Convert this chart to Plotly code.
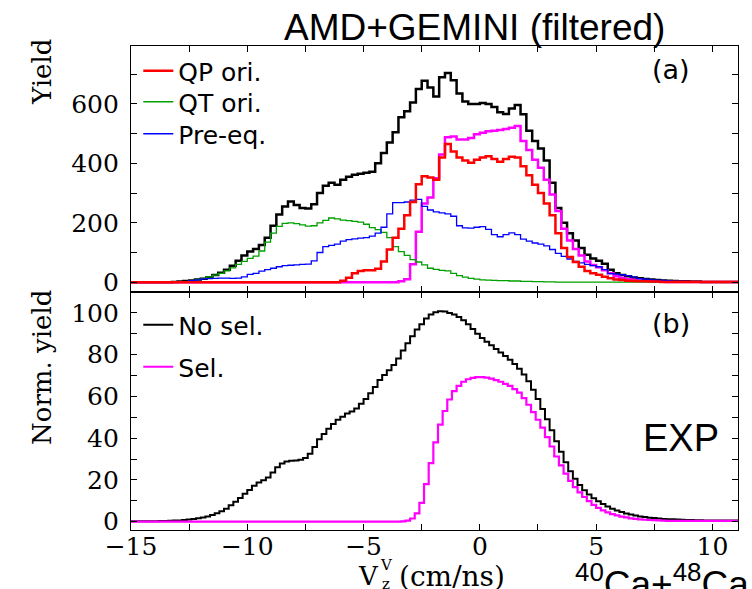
import numpy as np
import plotly.graph_objects as go

# ---------------- data (histograms, left bin edges start at X0) ----------------
X0 = -15.0
BIN_A = 0.25   # panel (a) bin width, cm/ns
BIN_B = 0.2    # panel (b) bin width, cm/ns

# Panel (a): AMD+GEMINI (filtered) yields
total_a = [0, 0, 0, 0, 0, 0, 0, 1, 2, 4, 6, 9, 12, 17, 24, 32, 42, 55, 72, 90,
           103, 112, 125, 150, 190, 228, 255, 272, 260, 250, 248, 262, 300, 325, 335, 328, 345, 355, 362, 365,
           368, 372, 400, 435, 470, 505, 555, 575, 605, 650, 678, 655, 625, 690, 704, 680, 635, 608, 600, 600,
           603, 600, 590, 572, 566, 585, 596, 565, 510, 475, 450, 410, 335, 250, 200, 165, 140, 115, 92, 80,
           72, 62, 42, 30, 24, 20, 16, 13, 11, 9, 7, 6, 5, 4, 3, 3, 2, 2, 1, 1,
           1, 1, 1, 1, 1]

qp_a = [0, 0, 0, 0, 0, 0, 0, 0, 0, 0, 0, 0, 0, 0, 0, 0, 0, 0, 0, 0,
        0, 0, 0, 0, 0, 0, 0, 0, 0, 0, 0, 0, 0, 0, 0, 0, 5, 15, 30, 38,
        40, 40, 45, 70, 110, 150, 180, 225, 270, 330, 357, 352, 345, 420, 465, 440, 420, 410, 402, 412,
        420, 424, 415, 405, 415, 422, 420, 390, 360, 328, 300, 265, 225, 165, 115, 85, 68, 52, 38, 30,
        25, 18, 13, 9, 7, 5, 4, 3, 3, 2, 2, 1, 1, 1, 1, 1, 1, 1, 1, 1,
        1, 1, 1, 1, 1]

qt_a = [0, 0, 0, 0, 0, 0, 0, 0, 0, 2, 5, 9, 13, 18, 24, 30, 38, 48, 60, 70,
        80, 88, 105, 135, 165, 188, 198, 200, 197, 193, 189, 190, 200, 208, 216, 213, 209, 207, 205, 202,
        195, 184, 177, 168, 150, 120, 103, 90, 76, 68, 58, 47, 43, 40, 38, 30, 22, 17, 13, 10,
        8, 7, 6, 5, 5, 4, 4, 3, 3, 2, 2, 1, 1, 0, 0, 0, 0, 0, 0, 0,
        0, 0, 0, 0, 0, 0, 0, 0, 0, 0, 0, 0, 0, 0, 0, 0, 0, 0, 0, 0,
        0, 0, 0, 0, 0]

preeq_a = [0, 0, 0, 0, 0, 0, 0, 0, 0, 2, 5, 8, 11, 12, 13, 14, 14, 13, 14, 18,
           26, 30, 37, 42, 47, 52, 56, 57, 58, 60, 61, 72, 100, 120, 124, 128, 138, 143, 146, 148,
           150, 155, 165, 185, 230, 268, 268, 270, 276, 279, 255, 243, 237, 233, 230, 222, 190, 183, 182, 185,
           187, 178, 160, 153, 160, 166, 160, 145, 138, 132, 128, 122, 110, 97, 87, 78, 70, 65, 60, 56,
           52, 42, 29, 27, 25, 22, 17, 12, 10, 8, 7, 6, 4, 3, 3, 2, 2, 1, 1, 1,
           1, 1, 1, 1, 1]

qpsel_a = [0, 0, 0, 0, 0, 0, 0, 0, 0, 0, 0, 0, 0, 0, 0, 0, 0, 0, 0, 0,
           0, 0, 0, 0, 0, 0, 0, 0, 0, 0, 0, 0, 0, 0, 0, 0, 0, 0, 0, 0,
           0, 0, 0, 0, 0, 0, 3, 10, 60, 170, 265, 285, 350, 430, 488, 490, 480, 480, 485, 498,
           503, 508, 510, 512, 516, 520, 526, 475, 445, 412, 385, 345, 295, 240, 180, 140, 112, 90, 70, 58,
           50, 40, 30, 20, 14, 10, 7, 5, 4, 3, 2, 2, 1, 1, 1, 1, 1, 1, 1, 1,
           1, 1, 1, 1, 1]

# Panel (b): EXP normalized yields
nosel_b = [0.2, 0.2, 0.2, 0.2, 0.2, 0.2,
           0.3, 0.3, 0.4, 0.5, 0.6, 0.8, 1.0, 1.3, 1.6, 2.0,
           2.5, 3.2, 4.0, 5.0, 6.2, 7.8, 9.5, 11.3, 13.4, 15.2,
           17.2, 18.8, 19.8, 21.2, 23.5, 26.0, 27.8, 28.8, 29.2, 29.3,
           29.6, 30.5, 32.5, 35.8, 39.5, 42.0, 44.5, 46.8, 48.8, 50.3,
           51.8, 52.8, 54.2, 56.5, 58.8, 61.5, 64.5, 67.8, 70.3, 72.5,
           75.0, 78.2, 82.0, 85.5, 88.8, 92.0, 94.5, 97.3, 99.2, 100.3,
           100.8, 100.6, 100.0, 99.2, 98.0, 96.5, 94.5, 92.3, 90.0, 88.0,
           86.2, 84.5, 82.7, 81.0, 79.3, 77.5, 75.5, 73.2, 70.5, 67.2,
           63.2, 58.7, 54.0, 49.0, 43.8, 38.5, 33.5, 28.5, 24.2, 20.5,
           17.5, 15.0, 13.0, 11.2, 9.8, 8.5, 7.3, 6.2, 5.3, 4.6,
           3.9, 3.4, 2.9, 2.5, 2.2, 1.9, 1.7, 1.5, 1.3, 1.2,
           1.1, 1.0, 0.9, 0.8, 0.8, 0.7, 0.7, 0.6, 0.6, 0.5,
           0.5, 0.5, 0.5, 0.5, 0.5]

sel_b = [0, 0, 0, 0, 0, 0, 0, 0, 0, 0,
         0, 0, 0, 0, 0, 0, 0, 0, 0, 0,
         0, 0, 0, 0, 0, 0, 0, 0, 0, 0,
         0, 0, 0, 0, 0, 0, 0, 0, 0, 0,
         0, 0, 0, 0, 0, 0, 0, 0, 0, 0,
         0, 0, 0, 0, 0, 0, 0, 0,
         0.1, 0.5, 1.5, 4.0, 9.0, 18.0, 28.0, 38.0, 46.5, 53.0,
         58.5, 62.5, 65.0, 67.0, 68.2, 68.9, 69.2, 69.2, 69.0, 68.5,
         67.8, 67.0, 66.0, 65.0, 63.5, 61.8, 59.2, 56.0, 52.5, 48.8,
         45.0, 40.5, 36.0, 31.2, 27.0, 23.0, 19.5, 16.5, 14.0, 11.8,
         9.8, 8.0, 6.6, 5.4, 4.4, 3.6, 3.0, 2.4, 2.0, 1.6,
         1.3, 1.1, 0.9, 0.8, 0.7, 0.6, 0.5,
         0.4, 0.4, 0.4, 0.4, 0.4, 0.4, 0.4, 0.4, 0.4, 0.4, 0.4, 0.4, 0.4, 0.4, 0.4, 0.4]

X_RANGE = [-15, 11.1]
Y_RANGE_A = [-33, 795]
Y_RANGE_B = [-4, 110]


def step_xy(vals, width):
    """Left bin edges + one closing edge so the last bin is drawn."""
    v = list(vals) + [vals[-1]]
    x = X0 + width * np.arange(len(v))
    return x, v


# ---------------- figure ----------------
fig = go.Figure()

def add_hist(vals, width, color, lw, xa, ya, name=None, legend=None):
    x, y = step_xy(vals, width)
    fig.add_trace(go.Scatter(
        x=x, y=y, mode="lines", line=dict(color=color, width=lw, shape="hv"),
        xaxis=xa, yaxis=ya, name=name, showlegend=name is not None,
        legend=legend if legend else "legend", hoverinfo="skip"))

# panel (a)
add_hist(total_a, BIN_A, "#000000", 2.5, "x2", "y2")
add_hist(qpsel_a, BIN_A, "#ff00ff", 2.5, "x2", "y2")
add_hist(qt_a, BIN_A, "#00a000", 1.3, "x2", "y2", name="QT ori.", legend="legend2")
add_hist(preeq_a, BIN_A, "#0000ff", 1.3, "x2", "y2", name="Pre-eq.", legend="legend3")
add_hist(qp_a, BIN_A, "#ff0000", 2.5, "x2", "y2", name="QP ori.", legend="legend")
# panel (b)
add_hist(nosel_b, BIN_B, "#000000", 2.0, "x", "y", name="No sel.", legend="legend4")
add_hist(sel_b, BIN_B, "#ff00ff", 2.2, "x", "y", name="Sel.", legend="legend5")

SPLIT = 238 / 484

def px_x(px):
    return (px - 131) / 607

def px_y(py):
    return (530 - py) / 484

tick_font = dict(family="DejaVu Serif", size=25, color="black")
minor_common = dict(ticks="inside", ticklen=6, tickwidth=1.2, tickcolor="black")
common_axis = dict(showline=True, linecolor="black", linewidth=1.3, mirror="ticks",
                   ticks="inside", ticklen=6, tickwidth=1.2, tickcolor="black",
                   showgrid=False, zeroline=False, tickfont=tick_font)

legend_font = dict(family="DejaVu Sans", size=25, color="black")

def legend_at(center_py):
    return dict(x=0.012, y=px_y(center_py - 22), xanchor="left", yanchor="top",
                bgcolor="rgba(0,0,0,0)", font=legend_font, itemwidth=30)

fig.update_layout(
    width=752, height=589,
    margin=dict(l=131, r=14, t=46, b=59),
    paper_bgcolor="white", plot_bgcolor="white",
    xaxis=dict(range=X_RANGE, domain=[0, 1], anchor="y", dtick=5, tick0=0,
               minor=dict(dtick=2.5, tick0=0, **minor_common),
               ticklabelstandoff=-6, **common_axis),
    yaxis=dict(range=Y_RANGE_B, domain=[0, SPLIT], anchor="x", dtick=20, tick0=0,
               minor=dict(dtick=10, tick0=0, **minor_common),
               ticklabelstandoff=6, **common_axis),
    xaxis2=dict(range=X_RANGE, domain=[0, 1], anchor="y2", matches="x", dtick=5, tick0=0,
                showticklabels=False,
                minor=dict(dtick=2.5, tick0=0, **minor_common),
                **common_axis),
    yaxis2=dict(range=Y_RANGE_A, domain=[SPLIT, 1], anchor="x2", dtick=200, tick0=0,
                minor=dict(dtick=100, tick0=0, **minor_common),
                ticklabelstandoff=6, **common_axis),
    legend=legend_at(70),
    legend2=legend_at(101),
    legend3=legend_at(133),
    legend4=legend_at(324),
    legend5=legend_at(366),
    showlegend=True,
)

ann = [
    dict(text="AMD+GEMINI (filtered)", x=px_x(474), y=px_y(27),
         font=dict(family="Liberation Sans", size=37, color="black")),
    dict(text="(a)", x=px_x(671), y=px_y(70), font=dict(family="DejaVu Sans", size=27, color="black")),
    dict(text="(b)", x=px_x(671), y=px_y(323), font=dict(family="DejaVu Sans", size=27, color="black")),
    dict(text="EXP", x=px_x(681), y=px_y(438), font=dict(family="Liberation Sans", size=38, color="black")),
    dict(text="Yield", x=px_x(42), y=px_y(72), textangle=-90,
         font=dict(family="DejaVu Serif", size=26, color="black")),
    dict(text="Norm. yield", x=px_x(42), y=px_y(368), textangle=-90,
         font=dict(family="DejaVu Serif", size=26, color="black")),
    dict(text="V", x=px_x(368), y=px_y(576), font=dict(family="DejaVu Serif", size=26, color="black")),
    dict(text="V", x=px_x(386), y=px_y(565), font=dict(family="DejaVu Serif", size=15, color="black")),
    dict(text="z", x=px_x(386), y=px_y(584), font=dict(family="DejaVu Serif", size=15, color="black")),
    dict(text="(cm/ns)", x=px_x(397), xanchor="left", y=px_y(576),
         font=dict(family="DejaVu Serif", size=28, color="black")),
    dict(text="<sup>40</sup>Ca+<sup>48</sup>Ca", x=px_x(573), xanchor="left", y=px_y(581),
         font=dict(family="Liberation Sans", size=37, color="black")),
]
for a in ann:
    a.setdefault("xanchor", "center")
    a.setdefault("yanchor", "middle")
    fig.add_annotation(xref="paper", yref="paper", showarrow=False, **a)

fig.write_html("out.html")
